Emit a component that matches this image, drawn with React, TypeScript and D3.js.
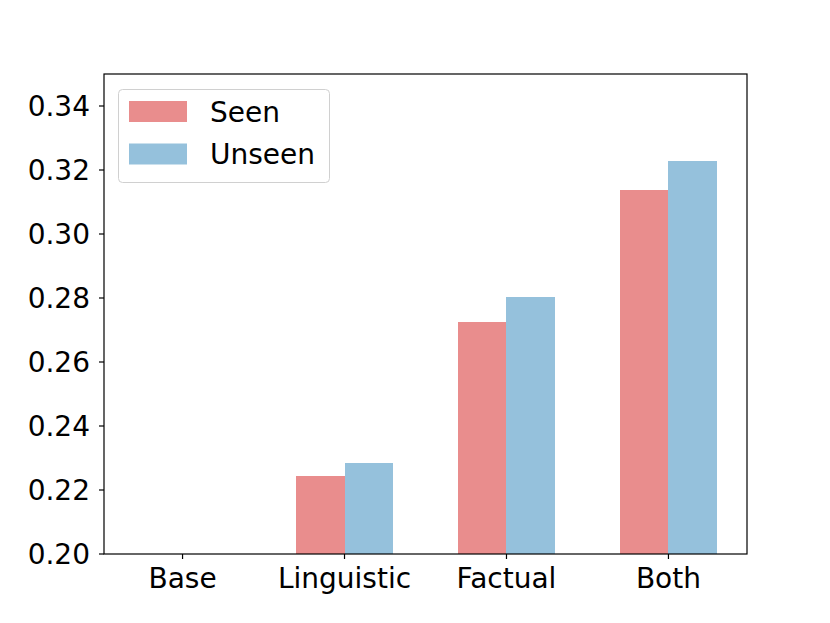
import React from "react";
import * as d3 from "d3";

const categories = ["Base", "Linguistic", "Factual", "Both"];
const seenValues = [0.18, 0.2244, 0.2725, 0.3137];
const unseenValues = [0.18, 0.2284, 0.2803, 0.3228];
const yTicks = [0.2, 0.22, 0.24, 0.26, 0.28, 0.3, 0.32, 0.34];
const seriesNames = ["Seen", "Unseen"];
const seriesColors = ["#E98D8D", "#95C1DC"];

const W = 830, H = 623;
const left = 104, right = 747, top = 74, bottom = 554;
const barW = 0.3;

export default function App() {
  const x = d3.scaleLinear().domain([-0.485, 3.485]).range([left, right]);
  const y = d3.scaleLinear().domain([0.2, 0.35]).range([bottom, top]);
  const series = [seenValues, unseenValues];
  const font = "DejaVu Sans, sans-serif";
  const fs = 28;
  return (
    <svg width={W} height={H} style={{ position: "absolute", left: 0, top: 0 }} fontFamily={font}>
      <rect width={W} height={H} fill="#fff" />
      <defs>
        <clipPath id="plot">
          <rect x={left} y={top} width={right - left} height={bottom - top} />
        </clipPath>
      </defs>
      <g clipPath="url(#plot)" shapeRendering="crispEdges">
        {series.map((vals, si) =>
          vals.map((v, i) => {
            const x0 = x(i + (si === 0 ? -barW : 0));
            const x1 = x(i + (si === 0 ? 0 : barW));
            const yt = y(v);
            return (
              <rect key={si + "-" + i} x={x0} y={Math.min(yt, bottom)} width={x1 - x0 + (si === 0 ? 0.5 : 0)}
                height={Math.max(0, bottom - yt)} fill={seriesColors[si]} />
            );
          })
        )}
      </g>
      <rect x={left} y={top} width={right - left} height={bottom - top} fill="none" stroke="#000" strokeWidth={1.2} />
      {yTicks.map((t) => (
        <g key={t}>
          <line x1={left - 5} x2={left} y1={y(t)} y2={y(t)} stroke="#000" strokeWidth={1.2} />
          <text x={left - 14} y={y(t)} dy="0.36em" textAnchor="end" fontSize={fs}>{t.toFixed(2)}</text>
        </g>
      ))}
      {categories.map((c, i) => (
        <g key={c}>
          <line x1={x(i)} x2={x(i)} y1={bottom} y2={bottom + 5} stroke="#000" strokeWidth={1.2} />
          <text x={x(i)} y={bottom + 34} textAnchor="middle" fontSize={fs}>{c}</text>
        </g>
      ))}
      <rect x={118.5} y={89.5} width={211} height={93} rx={4} fill="#fff" fillOpacity={0.8} stroke="#d0d0d0" strokeWidth={1} />
      {seriesNames.map((n, i) => (
        <g key={n}>
          <rect x={129} y={101 + i * 42.5} width={58} height={21} fill={seriesColors[i]} />
          <text x={210} y={111.5 + i * 42.5} dy="0.36em" fontSize={fs}>{n}</text>
        </g>
      ))}
    </svg>
  );
}
